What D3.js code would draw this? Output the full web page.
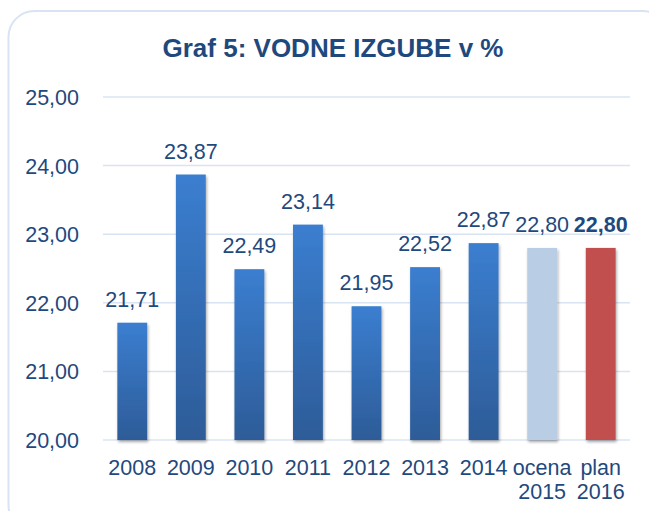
<!DOCTYPE html>
<html><head><meta charset="utf-8">
<script src="https://cdn.jsdelivr.net/npm/d3@7"></script>
<style>html,body{margin:0;padding:0;background:#fff;}svg{display:block;}</style>
</head><body>
<svg id="c" width="649" height="511"></svg>
<script>
const categories = [["2008"],["2009"],["2010"],["2011"],["2012"],["2013"],["2014"],["ocena","2015"],["plan","2016"]];
const values = [21.71, 23.87, 22.49, 23.14, 21.95, 22.52, 22.87, 22.80, 22.80];
const barKinds = ["actual","actual","actual","actual","actual","actual","actual","estimate","plan"];
const yTicks = [20, 21, 22, 23, 24, 25];
const title = "Graf 5: VODNE IZGUBE v %";

const svg = d3.select("#c");
const W = 649, H = 511;
const m = {left: 103, right: 19, top: 97, bottom: 71};
const font = "Arial, 'Liberation Sans', sans-serif";
const textColor = "#1f497d";
const fs = 21.5;

const defs = svg.append("defs");
const g1 = defs.append("linearGradient").attr("id","gBlue").attr("x1",0).attr("y1",0).attr("x2",0).attr("y2",1);
g1.append("stop").attr("offset","0%").attr("stop-color","#3b7ed0");
g1.append("stop").attr("offset","100%").attr("stop-color","#2d5c98");
const f = defs.append("filter").attr("id","sh").attr("x","-30%").attr("y","-10%").attr("width","160%").attr("height","130%");
f.append("feGaussianBlur").attr("in","SourceAlpha").attr("stdDeviation",1.5);
f.append("feOffset").attr("dx",1).attr("dy",2).attr("result","b");
f.append("feComponentTransfer").append("feFuncA").attr("type","linear").attr("slope",0.35);
const fm = f.append("feMerge"); fm.append("feMergeNode"); fm.append("feMergeNode").attr("in","SourceGraphic");

svg.append("rect").attr("x",8.5).attr("y",11).attr("width",660).attr("height",520)
  .attr("rx",26).attr("fill","#fff").attr("stroke","#d8e4f4").attr("stroke-width",2);

svg.append("text").attr("x",333).attr("y",57).attr("text-anchor","middle")
  .attr("font-family",font).attr("font-weight","bold").attr("font-size",26)
  .attr("fill","#1f497d").text(title);

const x = d3.scaleBand().domain(d3.range(categories.length)).range([m.left, W - m.right]).paddingInner(0.49).paddingOuter(0.245);
const y = d3.scaleLinear().domain([20, 25]).range([H - m.bottom, m.top]);

const grid = svg.append("g");
grid.selectAll("line").data(yTicks).join("line")
  .attr("x1", m.left).attr("x2", W - m.right)
  .attr("y1", d => y(d)).attr("y2", d => y(d))
  .attr("stroke","#d9e4f3").attr("stroke-width",1.5);

const yAxis = svg.append("g").attr("transform",`translate(${m.left - 24},0)`)
  .call(d3.axisLeft(y).tickValues(yTicks).tickSize(0).tickFormat(d => d3.format(".2f")(d).replace(".",",")));
yAxis.select(".domain").remove();
yAxis.selectAll("text").attr("font-family",font).attr("font-size",fs).attr("fill",textColor).attr("x",0).attr("dy","0.35em");

const colorFor = k => k === "estimate" ? "#b9cde5" : k === "plan" ? "#c0504d" : "url(#gBlue)";
svg.append("g").selectAll("rect").data(values).join("rect")
  .attr("x",(d,i) => x(i)).attr("width", x.bandwidth())
  .attr("y", d => y(d)).attr("height", d => y(20) - y(d))
  .attr("fill",(d,i) => colorFor(barKinds[i])).attr("filter","url(#sh)");

svg.append("g").selectAll("text").data(values).join("text")
  .attr("x",(d,i) => x(i) + x.bandwidth()/2).attr("y", d => y(d) - 16)
  .attr("text-anchor","middle").attr("font-family",font).attr("font-size",fs)
  .attr("font-weight",(d,i) => barKinds[i] === "plan" ? "bold" : "normal")
  .attr("fill",textColor).text(d => d3.format(".2f")(d).replace(".",","));

const xl = svg.append("g").selectAll("text").data(categories).join("text")
  .attr("x",(d,i) => x(i) + x.bandwidth()/2).attr("y", 475)
  .attr("text-anchor","middle").attr("font-family",font).attr("font-size",fs).attr("fill",textColor);
xl.selectAll("tspan").data(d => d).join("tspan")
  .attr("x", function(){ return this.parentNode.getAttribute("x"); })
  .attr("dy",(d,j) => j === 0 ? 0 : 24).text(d => d);
</script>
</body></html>
